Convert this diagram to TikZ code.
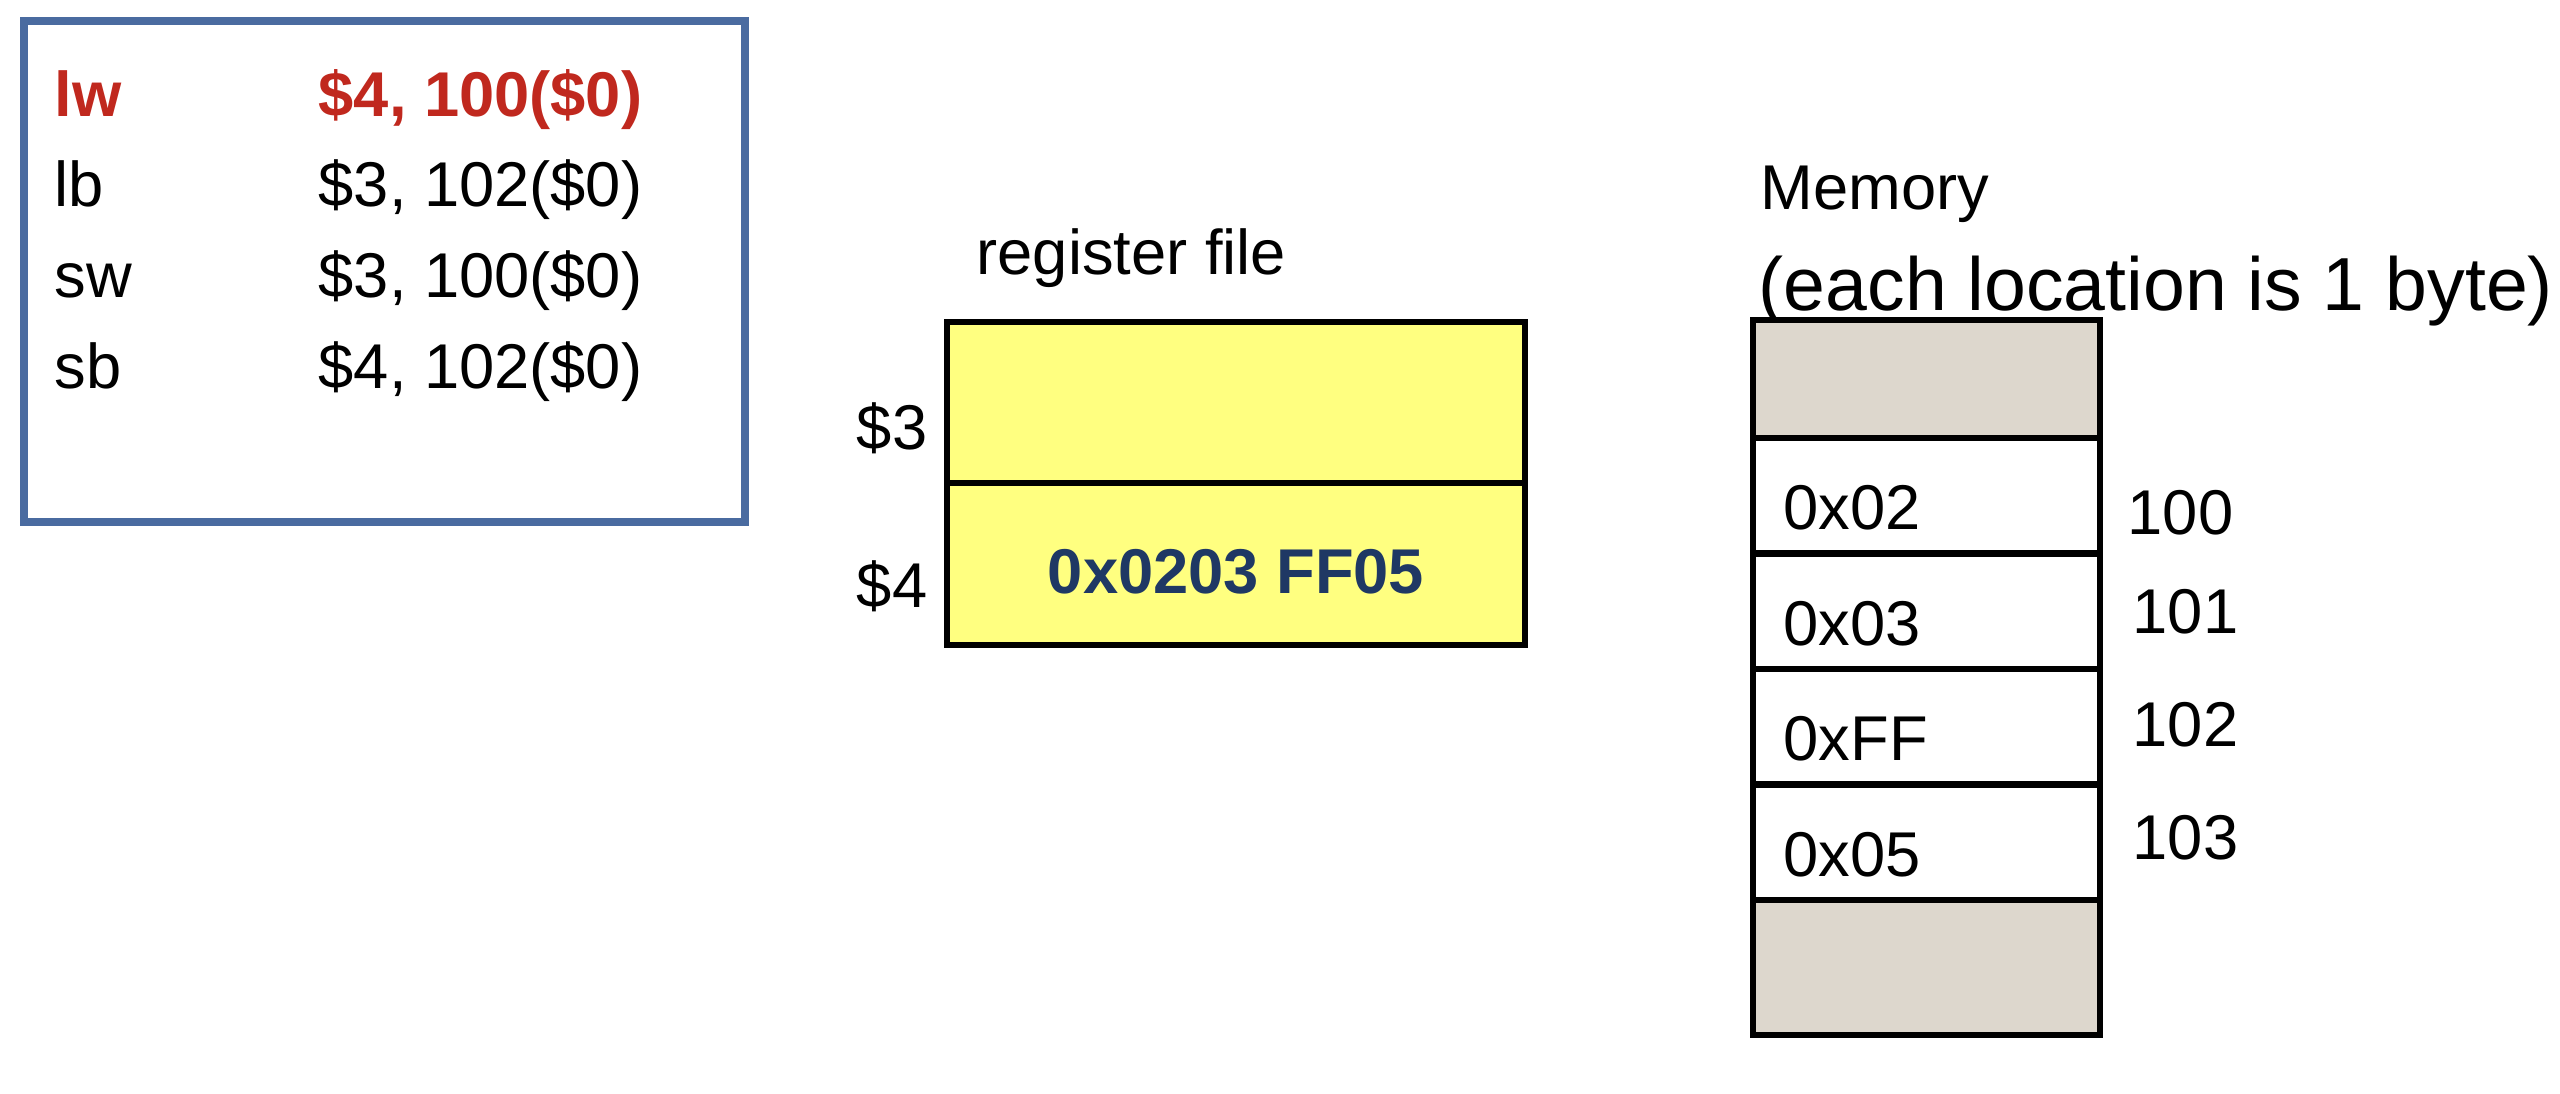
\documentclass[tikz,border=0pt]{standalone}
\usepackage{fontspec}
\setmainfont{Liberation Sans}
\usetikzlibrary{positioning}
\definecolor{codeblue}{RGB}{74,107,160}
\definecolor{codered}{RGB}{192,40,30}
\definecolor{regyellow}{RGB}{255,255,128}
\definecolor{regnavy}{RGB}{31,56,100}
\definecolor{memgray}{RGB}{221,215,205}

\begin{document}
\begin{tikzpicture}[
    txt/.style={inner sep=0pt, font=\fontsize{18}{21}\selectfont},
    cell/.style={draw, line width=1.8pt, rectangle, inner sep=0pt, outer sep=0pt, minimum width=3.47cm},
    regcell/.style={draw, line width=1.8pt, rectangle, fill=regyellow, inner sep=0pt, outer sep=0pt, minimum width=5.78cm, minimum height=1.615cm}
]
    \useasboundingbox (0,0) rectangle (25.6,-10.94);

    % Instruction sequence
    \node[draw=codeblue, line width=2pt, minimum width=7.21cm, minimum height=5.01cm] (prog) at (3.845,-2.715) {};
    \node[txt, anchor=base west, text=codered, font=\fontsize{18}{21}\selectfont\bfseries] (op1) at (0.54,-1.16) {lw};
    \node[txt, anchor=base west, text=codered, font=\fontsize{18}{21}\selectfont\bfseries] (arg1) at (3.18,-1.16) {\$4, 100(\$0)};
    \node[txt, anchor=base west] (op2) at (0.54,-2.06) {lb};
    \node[txt, anchor=base west] (arg2) at (3.18,-2.06) {\$3, 102(\$0)};
    \node[txt, anchor=base west] (op3) at (0.54,-2.97) {sw};
    \node[txt, anchor=base west] (arg3) at (3.18,-2.97) {\$3, 100(\$0)};
    \node[txt, anchor=base west] (op4) at (0.54,-3.88) {sb};
    \node[txt, anchor=base west] (arg4) at (3.18,-3.88) {\$4, 102(\$0)};

    % Register file
    \node[txt, anchor=base west] (regtitle) at (9.76,-2.74) {register file};
    \node[regcell] (reg3) at (12.36,-4.025) {};
    \node[regcell, below=0pt of reg3] (reg4) {};
    \node[txt, anchor=base east] (reg3name) at (9.28,-4.49) {\$3};
    \node[txt, anchor=base east] (reg4name) at (9.28,-6.07) {\$4};
    \node[txt, anchor=base, text=regnavy, font=\fontsize{18}{21}\selectfont\bfseries] (regval) at ([yshift=-0.29cm]reg4.center) {0x0203 FF05};

    % Memory
    \node[txt, anchor=base west] (memtitle) at (17.60,-2.09) {Memory};
    \node[txt, anchor=base west, font=\fontsize{21.4}{25}\selectfont] (memnote) at (17.58,-3.10) {(each location is 1 byte)};
    \node[cell, fill=memgray, minimum height=1.18cm] (memtop) at (19.265,-3.79) {};
    \node[cell, fill=white, minimum height=1.155cm, below=0pt of memtop] (mem100) {};
    \node[cell, fill=white, minimum height=1.155cm, below=0pt of mem100] (mem101) {};
    \node[cell, fill=white, minimum height=1.155cm, below=0pt of mem101] (mem102) {};
    \node[cell, fill=white, minimum height=1.155cm, below=0pt of mem102] (mem103) {};
    \node[cell, fill=memgray, minimum height=1.35cm, below=0pt of mem103] (membot) {};

    \node[txt, anchor=base west] (val100) at ([xshift=0.30cm, yshift=0.24cm]mem100.south west) {0x02};
    \node[txt, anchor=base west] (val101) at ([xshift=0.30cm, yshift=0.24cm]mem101.south west) {0x03};
    \node[txt, anchor=base west] (val102) at ([xshift=0.30cm, yshift=0.24cm]mem102.south west) {0xFF};
    \node[txt, anchor=base west] (val103) at ([xshift=0.30cm, yshift=0.24cm]mem103.south west) {0x05};

    \node[txt, anchor=base west] (addr100) at (21.27,-5.34) {100};
    \node[txt, anchor=base west] (addr101) at (21.32,-6.33) {101};
    \node[txt, anchor=base west] (addr102) at (21.32,-7.46) {102};
    \node[txt, anchor=base west] (addr103) at (21.32,-8.59) {103};
\end{tikzpicture}
\end{document}
